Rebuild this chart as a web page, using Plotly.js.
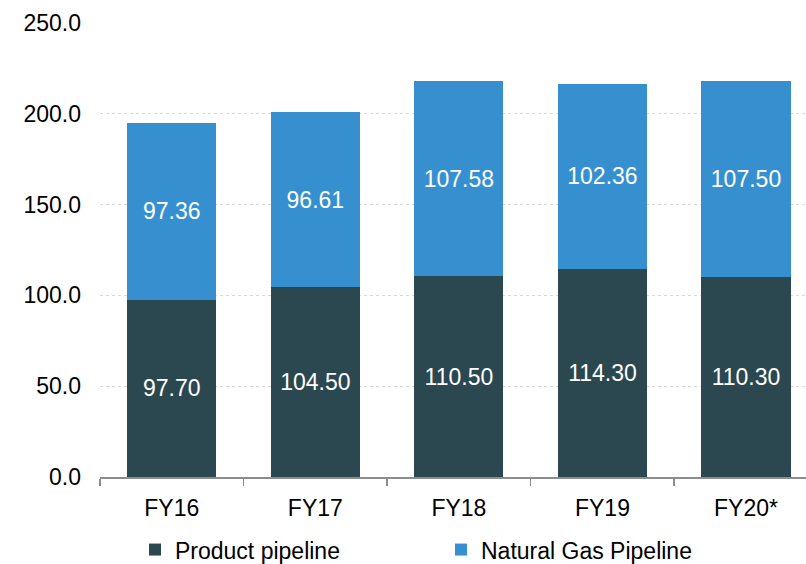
<!DOCTYPE html>
<html>
<head>
<meta charset="utf-8">
<script src="https://cdn.plot.ly/plotly-3.0.1.min.js"></script>
<style>html,body{margin:0;padding:0;background:#fff;}#chart{width:806px;height:564px;}</style>
</head>
<body>
<div id="chart"></div>
<script>
const categories = ["FY16", "FY17", "FY18", "FY19", "FY20*"];
const productPipeline = [97.70, 104.50, 110.50, 114.30, 110.30];
const naturalGasPipeline = [97.36, 96.61, 107.58, 102.36, 107.50];
const yTickVals = [0, 50, 100, 150, 200, 250];

const FONT = 'Arial, "Liberation Sans", sans-serif';

const traces = [
  {
    type: 'bar', name: 'Product pipeline', x: categories, y: productPipeline,
    marker: {color: '#2B4850'},
    texttemplate: '%{y:.2f}', textposition: 'inside', insidetextanchor: 'middle',
    textfont: {family: FONT, size: 23, color: '#ffffff'}, hoverinfo: 'none'
  },
  {
    type: 'bar', name: 'Natural Gas Pipeline', x: categories, y: naturalGasPipeline,
    marker: {color: '#3690D0'},
    texttemplate: '%{y:.2f}', textposition: 'inside', insidetextanchor: 'middle',
    textfont: {family: FONT, size: 23, color: '#ffffff'}, hoverinfo: 'none'
  }
];

const layout = {
  width: 806, height: 564,
  margin: {l: 100, r: 0, t: 23, b: 87},
  barmode: 'stack', bargap: 0.38,
  paper_bgcolor: '#ffffff', plot_bgcolor: '#ffffff',
  font: {family: FONT, size: 23, color: '#000000'},
  showlegend: true,
  legend: {
    orientation: 'h', x: 0.483, xref: 'paper', xanchor: 'center',
    y: 0.0255, yref: 'container', yanchor: 'middle',
    font: {family: FONT, size: 23, color: '#000000'},
    traceorder: 'normal', entrywidth: 261, itemwidth: 30
  },
  xaxis: {
    type: 'category', range: [-0.5, 4.418], fixedrange: true, automargin: false,
    showline: true, linecolor: '#8c8c8c', linewidth: 1.5,
    ticks: 'outside', tickson: 'boundaries', ticklen: 7, tickcolor: '#8c8c8c', tickwidth: 1.5,
    ticklabelstandoff: 10,
    showgrid: false, tickfont: {family: FONT, size: 23, color: '#000000'}
  },
  yaxis: {
    range: [0, 250], tickvals: yTickVals, ticktext: yTickVals.map(v => v.toFixed(1)),
    showline: false, zeroline: false, ticks: '', ticklabelstandoff: 18, automargin: false,
    showgrid: true, gridcolor: '#d9d9d9', gridwidth: 1, griddash: '3px,3px',
    tickfont: {family: FONT, size: 23, color: '#000000'}, fixedrange: true
  }
};

Plotly.newPlot('chart', traces, layout, {displayModeBar: false, staticPlot: true});
</script>
</body>
</html>
